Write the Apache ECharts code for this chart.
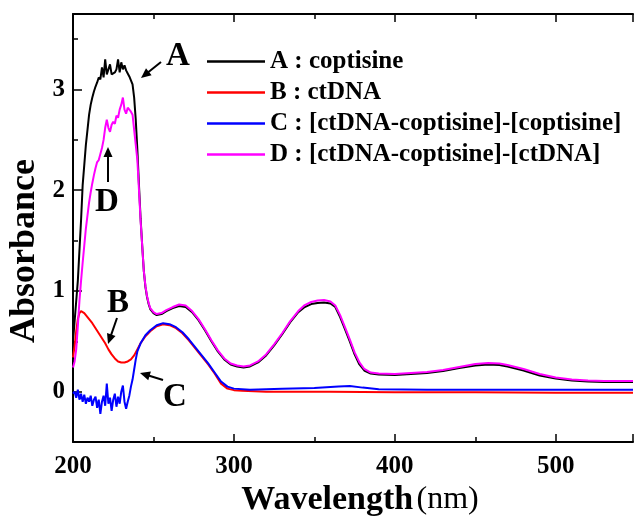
<!DOCTYPE html>
<html>
<head>
<meta charset="utf-8">
<script src="https://cdn.jsdelivr.net/npm/echarts@6/dist/echarts.min.js"></script>
<style>html,body{margin:0;padding:0;background:#fff}#c{width:634px;height:523px}</style>
</head>
<body>
<div id="c"></div>
<script>
// ---- data (wavelength nm, absorbance) ----
const seriesNames = ['A : coptisine', 'B : ctDNA', 'C : [ctDNA-coptisine]-[coptisine]', 'D : [ctDNA-coptisine]-[ctDNA]'];
const xTicks = [200, 300, 400, 500];
const yTicks = [0, 1, 2, 3];

const aWl  = [200,201,202,203,204,205,206,207,208,209,210,211,212,213,214,215,216,217,218,219,220,221,222,223,224,225,226,227,228,229,230,231,232,233,234,235,236,237,238,239,240,241,242,243,244,245,246,247,248,250,252,255,258,262,266,270,274,278,282,286,290,294,298,302,306,310,315,320,325,330,335,340,344,348,352,356,360,363,366,369,372,375,378,381,385,390,400,410,420,430,440,450,458,465,470,480,490,500,510,520,530,548];
const aAbs = [0.5,0.7,0.9,1.1,1.4,1.7,2.05,2.25,2.45,2.6,2.75,2.85,2.92,2.98,3.03,3.07,3.12,3.1,3.22,3.12,3.3,3.15,3.2,3.25,3.15,3.14,3.17,3.2,3.3,3.17,3.27,3.2,3.24,3.19,3.16,3.13,3.12,3.05,2.92,2.7,2.4,2.05,1.72,1.45,1.2,1.04,0.94,0.87,0.82,0.78,0.76,0.77,0.8,0.83,0.85,0.84,0.79,0.71,0.61,0.5,0.4,0.32,0.27,0.25,0.24,0.25,0.29,0.36,0.46,0.57,0.69,0.79,0.84,0.87,0.88,0.885,0.875,0.84,0.74,0.62,0.5,0.37,0.27,0.21,0.18,0.17,0.165,0.175,0.185,0.205,0.235,0.26,0.27,0.265,0.25,0.21,0.16,0.13,0.11,0.1,0.095,0.095];

const bWl  = [200,201,202,203,204,205,206,207,208,210,212,214,216,218,220,222,224,226,228,230,232,234,236,238,240,242,245,248,252,256,260,264,268,272,276,280,284,288,292,296,300,305,320,360,400,450,500,548];
const bAbs = [0.34,0.45,0.6,0.72,0.78,0.8,0.8,0.78,0.76,0.72,0.68,0.63,0.58,0.53,0.48,0.42,0.37,0.33,0.3,0.29,0.29,0.3,0.32,0.36,0.42,0.48,0.55,0.6,0.65,0.67,0.66,0.63,0.58,0.51,0.43,0.35,0.27,0.18,0.08,0.03,0.015,0.01,0.0,0.0,-0.005,-0.005,-0.01,-0.01];

const cWl  = [200,201,202,203,204,205,206,207,208,209,210,211,212,213,214,215,216,217,218,219,220,221,222,223,224,225,226,227,228,229,230,231,232,233,234,235,236,237,238,239,240,242,245,248,252,256,260,264,268,272,276,280,284,288,292,296,300,310,330,350,365,372,380,390,420,470,548];
const cAbs = [-0.02,0.0,-0.06,0.02,-0.08,-0.02,-0.1,-0.03,-0.12,-0.06,-0.1,-0.04,-0.14,-0.08,-0.05,-0.16,-0.08,-0.22,-0.1,-0.04,-0.14,0.08,-0.12,-0.06,-0.19,-0.08,-0.02,-0.15,-0.05,-0.12,0.0,0.06,-0.1,-0.17,-0.1,-0.04,0.05,0.12,0.22,0.32,0.4,0.48,0.56,0.61,0.66,0.68,0.67,0.64,0.59,0.52,0.44,0.36,0.28,0.19,0.1,0.05,0.03,0.02,0.03,0.035,0.05,0.055,0.04,0.025,0.02,0.02,0.02];

const dWl  = [200,201,202,203,204,205,206,207,208,209,210,211,212,213,214,215,216,217,218,219,220,221,222,223,224,225,226,227,228,229,230,231,232,233,234,235,236,237,238,239,240,241,242,243,244,245,246,247,248,250,252,255,258,262,266,270,274,278,282,286,290,294,298,302,306,310,315,320,325,330,335,340,344,348,352,356,360,363,366,369,372,375,378,381,385,390,400,410,420,430,440,450,458,465,470,480,490,500,510,520,530,548];
const dAbs = [0.24,0.3,0.42,0.65,0.9,1.1,1.28,1.45,1.62,1.75,1.88,1.98,2.07,2.15,2.22,2.28,2.3,2.36,2.42,2.5,2.62,2.7,2.62,2.58,2.65,2.68,2.66,2.74,2.72,2.8,2.85,2.92,2.8,2.76,2.82,2.8,2.78,2.75,2.6,2.45,2.3,2.0,1.7,1.45,1.2,1.05,0.95,0.88,0.83,0.79,0.77,0.78,0.81,0.84,0.865,0.855,0.8,0.72,0.62,0.51,0.41,0.33,0.28,0.26,0.25,0.26,0.3,0.37,0.47,0.58,0.7,0.8,0.86,0.89,0.905,0.91,0.895,0.855,0.76,0.64,0.52,0.39,0.29,0.225,0.19,0.18,0.175,0.185,0.195,0.215,0.245,0.275,0.285,0.28,0.265,0.225,0.175,0.14,0.12,0.11,0.105,0.105];

// annotations: letter, letter centre (px), arrow tail -> head (px)
const notes = [
  {t:'A', x:178, y:56, ax:[161,62], ah:[141,78]},
  {t:'B', x:118, y:303, ax:[117,318], ah:[108,344]},
  {t:'C', x:175, y:397, ax:[163,380], ah:[140,373]},
  {t:'D', x:107, y:202, ax:[108,182], ah:[108,147]}
];

const colors = ['#000000', '#ff0000', '#0000ff', '#ff00ff'];
const FONT = '"Liberation Serif", "Times New Roman", serif';

function zip(x, y){ return x.map((v,i)=>[v, y[i]]); }
const datasets = [zip(aWl,aAbs), zip(bWl,bAbs), zip(cWl,cAbs), zip(dWl,dAbs)];

const chart = echarts.init(document.getElementById('c'), null, {renderer:'canvas'});

const axisCommon = {
  type:'value', min:200, max:548, interval:100,
  axisLine:{show:true, onZero:false, lineStyle:{color:'#000', width:2}},
  axisTick:{show:true, inside:true, length:8, lineStyle:{color:'#000', width:1.5}},
  minorTick:{show:true, splitNumber:2, length:5, lineStyle:{color:'#000', width:1.5}},
  splitLine:{show:false}
};

const graphics = [];
notes.forEach(n=>{
  graphics.push({type:'text', x:n.x, y:n.y, style:{text:n.t, font:'bold 33px '+FONT, fill:'#000', align:'center', verticalAlign:'middle'}});
  const dx = n.ah[0]-n.ax[0], dy = n.ah[1]-n.ax[1];
  const L = Math.sqrt(dx*dx+dy*dy), ux = dx/L, uy = dy/L;
  const hl = 10, hw = 4.5;
  const bx = n.ah[0]-ux*hl, by = n.ah[1]-uy*hl;
  graphics.push({type:'polyline', shape:{points:[n.ax,[bx+ux*2,by+uy*2]]}, style:{stroke:'#000', lineWidth:2, fill:null}});
  graphics.push({type:'polygon', shape:{points:[n.ah,[bx-uy*hw,by+ux*hw],[bx+uy*hw,by-ux*hw]]}, style:{fill:'#000'}});
});
graphics.push({type:'text', x:25, y:251, rotation:Math.PI/2, style:{text:'Absorbance', font:'bold 36px '+FONT, fill:'#000', align:'center', verticalAlign:'middle'}});
graphics.push({type:'text', x:360, y:500, style:{
  text:'{b|Wavelength} {n|(nm)}', align:'center', verticalAlign:'middle',
  rich:{b:{font:'bold 34px '+FONT, fill:'#000'}, n:{font:'32px '+FONT, fill:'#000'}}
}});

chart.setOption({
  animation:false,
  backgroundColor:'#fff',
  grid:{left:73, top:14, right:1, bottom:81, containLabel:false},
  legend:{
    orient:'vertical', left:202, top:44, itemWidth:58, itemHeight:2.5, itemGap:6,
    icon:'rect', data:seriesNames,
    textStyle:{fontFamily:FONT, fontWeight:'bold', fontSize:25, color:'#000'}
  },
  xAxis:[
    Object.assign({}, axisCommon, {position:'bottom',
      axisLabel:{show:true, margin:12, showMaxLabel:false, fontFamily:FONT, fontWeight:'bold', fontSize:25, color:'#000'}}),
    Object.assign({}, axisCommon, {position:'top', axisLabel:{show:false}})
  ],
  yAxis:[
    {type:'value', min:-0.5, max:3.75, position:'left',
     axisLine:{show:true, onZero:false, lineStyle:{color:'#000', width:2}},
     axisTick:{show:true, inside:true, length:9, customValues:yTicks, lineStyle:{color:'#000', width:1.5}},
     axisLabel:{show:true, customValues:yTicks, margin:8, fontFamily:FONT, fontWeight:'bold', fontSize:25, color:'#000'},
     splitLine:{show:false}},
    {type:'value', min:-0.5, max:3.75, position:'left',
     axisLine:{show:false},
     axisTick:{show:true, inside:true, length:5, customValues:[0.5,1.5,2.5,3.5], lineStyle:{color:'#000', width:1.5}},
     axisLabel:{show:false}, splitLine:{show:false}}
  ],
  series: seriesNames.map((nm,i)=>({
    name:nm, type:'line', data:datasets[i], xAxisIndex:0, yAxisIndex:0,
    showSymbol:false, symbol:'none', smooth:false, clip:true,
    lineStyle:{color:colors[i], width:2}, itemStyle:{color:colors[i]}
  })),
  graphic: graphics
});
</script>
</body>
</html>
